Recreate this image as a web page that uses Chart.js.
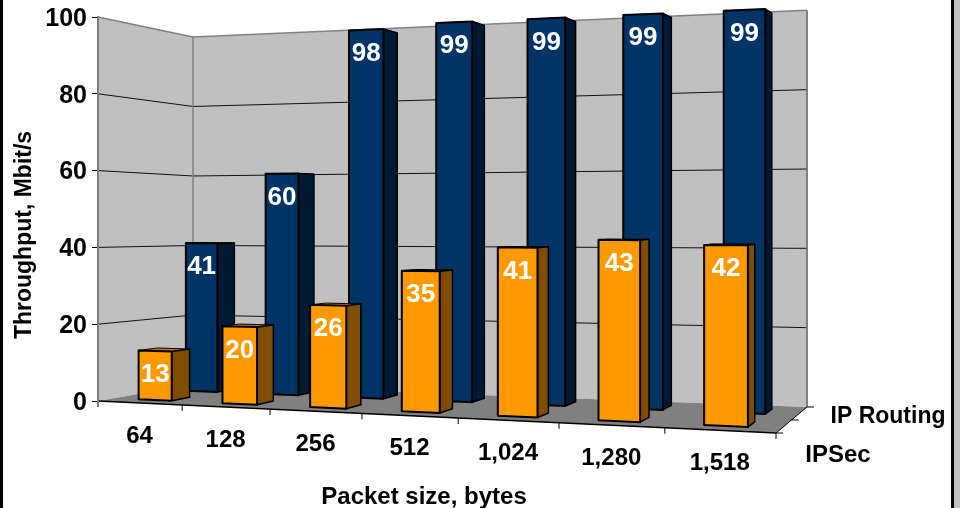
<!DOCTYPE html>
<html>
<head>
<meta charset="utf-8">
<title>Throughput by packet size</title>
<style>
    html, body { margin: 0; padding: 0; background: #c0c0c0; overflow: hidden; }
    .panel { position: absolute; left: 0; top: 0; width: 954px; height: 508px; box-sizing: border-box; background: #fff; border-left: 3px solid #000; border-right: 3px solid #000; }
    #chart { position: absolute; left: 0; top: 0; }
</style>
</head>
<body>
<div class="panel"></div>
<canvas id="chart" width="960" height="508"></canvas>
<script src="https://cdn.jsdelivr.net/npm/chart.js@4"></script>
<script>
const packetSizes = ['64', '128', '256', '512', '1,024', '1,280', '1,518'];
const ipSecValues = [13, 20, 26, 35, 41, 43, 42];
const ipRoutingValues = [41, 60, 98, 99, 99, 99, 99];
const seriesNames = ['IPSec', 'IP Routing'];
const yTicks = [0, 20, 40, 60, 80, 100];

const FONT = '"Liberation Sans", Arial, sans-serif';

// Box corners on screen, measured from the y axis: floor offsets and wall scaling
const BOX = {
    frontSpan: 678,
    frontDrop: 32,
    backLeftX: 95,
    backLeftY: -16.5,
    backSpan: 614,
    backDrop: 22.5,
    perspective: -0.15,
    scaleFrontRight: 1.16,
    scaleBackLeft: 0.905,
    scaleBackRight: 1.033,
};

const ROWS = [
    { front: 0.17, back: 0.37, face: '#ff9900', side: '#7f4c00', top: '#c87800' },
    { front: 0.68, back: 0.87, face: '#003366', side: '#001a33', top: '#001a33' },
];

const lerp = (a, b, t) => a + (b - a) * t;

// Turns (u along the axis, w into the depth, h in y-axis pixels) into a screen point
const makeProjector = (chart) => {
    const area = chart.chartArea;
    return (u, w, h = 0) => {
        const p = BOX.perspective;
        const t = (u * (1 + p)) / (1 + p * u);
        const frontX = area.left + BOX.frontSpan * t;
        const frontY = area.bottom + BOX.frontDrop * t;
        const backX = area.left + BOX.backLeftX + BOX.backSpan * t;
        const backY = area.bottom + BOX.backLeftY + BOX.backDrop * t;
        const scale = lerp(lerp(1, BOX.scaleFrontRight, t), lerp(BOX.scaleBackLeft, BOX.scaleBackRight, t), w);
        return { x: lerp(frontX, backX, w), y: lerp(frontY, backY, w) - h * scale };
    };
};

const polygon = (ctx, points, fill, stroke, lineWidth = 1) => {
    ctx.beginPath();
    points.forEach((pt, i) => (i === 0 ? ctx.moveTo(pt.x, pt.y) : ctx.lineTo(pt.x, pt.y)));
    ctx.closePath();
    if (fill) {
        ctx.fillStyle = fill;
        ctx.fill();
    }
    if (stroke) {
        ctx.strokeStyle = stroke;
        ctx.lineWidth = lineWidth;
        ctx.lineJoin = 'round';
        ctx.stroke();
    }
};

const segment = (ctx, a, b, color, lineWidth = 1) => {
    ctx.beginPath();
    ctx.moveTo(a.x, a.y);
    ctx.lineTo(b.x, b.y);
    ctx.strokeStyle = color;
    ctx.lineWidth = lineWidth;
    ctx.stroke();
};

const text = (ctx, label, x, y, font, color = '#000') => {
    ctx.font = font;
    ctx.fillStyle = color;
    ctx.textAlign = 'center';
    ctx.textBaseline = 'middle';
    ctx.fillText(label, x, y);
};

const drawBox = (chart) => {
    const { ctx, scales: { y: yScale } } = chart;
    const project = makeProjector(chart);
    const full = yScale.bottom - yScale.top;

    ctx.save();
    polygon(ctx, [project(0, 0), project(0, 1), project(0, 1, full), project(0, 0, full)], '#c0c0c0');
    polygon(ctx, [project(0, 1), project(1, 1), project(1, 1, full), project(0, 1, full)], '#c0c0c0');
    polygon(ctx, [project(0, 0), project(1, 0), project(1, 1), project(0, 1)], '#808080');

    yTicks.slice(1, -1).forEach((value) => {
        const h = yScale.bottom - yScale.getPixelForValue(value);
        segment(ctx, project(0, 0, h), project(0, 1, h), '#111');
        segment(ctx, project(0, 1, h), project(1, 1, h), '#111');
    });

    segment(ctx, project(0, 0, full), project(0, 1, full), '#808080', 1.5);
    segment(ctx, project(0, 1, full), project(1, 1, full), '#808080', 1.5);
    segment(ctx, project(0, 1), project(0, 1, full), '#808080', 1.5);
    segment(ctx, project(1, 1), project(1, 1, full), '#808080', 2);

    // Floor edges with category and series ticks
    segment(ctx, project(0, 0), project(1, 0), '#000', 1.5);
    segment(ctx, project(1, 0), project(1, 1), '#000', 1);
    packetSizes.forEach((_, i) => {
        const pt = project(i / packetSizes.length, 0);
        segment(ctx, pt, { x: pt.x, y: pt.y + 6 }, '#000');
    });
    const last = project(1, 0);
    segment(ctx, last, { x: last.x, y: last.y + 6 }, '#000');
    [0, 0.5, 1].forEach((w) => {
        const pt = project(1, w);
        segment(ctx, pt, { x: pt.x + 7, y: pt.y }, '#000');
    });
    ctx.restore();
};

const drawBar = (ctx, project, element, value, row, yScale) => {
    const area = yScale.chart.chartArea;
    const u0 = (element.x - element.width / 2 - area.left) / (area.right - area.left);
    const u1 = (element.x + element.width / 2 - area.left) / (area.right - area.left);
    const h = element.base - element.y;

    const fl = project(u0, row.front);
    const fr = project(u1, row.front);
    const br = project(u1, row.back);
    const tfl = project(u0, row.front, h);
    const tfr = project(u1, row.front, h);
    const tbr = project(u1, row.back, h);
    const tbl = project(u0, row.back, h);

    polygon(ctx, [tfl, tfr, tbr, tbl], row.top, '#000', 1);
    polygon(ctx, [fr, br, tbr, tfr], row.side, '#000', 1.5);
    polygon(ctx, [fl, fr, tfr, tfl], row.face, '#000', 2);
    text(ctx, String(value), (tfl.x + tfr.x) / 2, (tfl.y + tfr.y) / 2 + 24, `bold 26px ${FONT}`, '#fff');
};

const box3dPlugin = {
    id: 'box3d',
    beforeDraw: drawBox,
    beforeDatasetsDraw(chart) {
        const { ctx, scales: { y: yScale } } = chart;
        const project = makeProjector(chart);
        ctx.save();
        // Back row first so the front row sits over it
        [1, 0].forEach((datasetIndex) => {
            const values = chart.data.datasets[datasetIndex].data;
            chart.getDatasetMeta(datasetIndex).data.forEach((element, i) => {
                drawBar(ctx, project, element, values[i], ROWS[datasetIndex], yScale);
            });
        });
        ctx.restore();
        return false;
    },
    afterDraw(chart) {
        const { ctx } = chart;
        const project = makeProjector(chart);
        ctx.save();
        packetSizes.forEach((label, i) => {
            const pt = project((i + 0.5) / packetSizes.length, 0);
            text(ctx, label, pt.x, pt.y + 33, `bold 24px ${FONT}`);
        });
        text(ctx, 'Packet size, bytes', 424, 497, `bold 24px ${FONT}`);
        text(ctx, seriesNames[0], 838, 455, `bold 24px ${FONT}`);
        text(ctx, seriesNames[1], 888, 417, `bold 23px ${FONT}`);

        ctx.translate(25, 235);
        ctx.rotate(-Math.PI / 2);
        text(ctx, 'Throughput, Mbit/s', 0, 0, `bold 23px ${FONT}`);
        ctx.restore();
    },
};

new Chart(document.getElementById('chart'), {
    type: 'bar',
    data: {
        labels: packetSizes,
        datasets: [
            { label: seriesNames[0], data: ipSecValues, backgroundColor: ROWS[0].face },
            { label: seriesNames[1], data: ipRoutingValues, backgroundColor: ROWS[1].face },
        ],
    },
    options: {
        responsive: false,
        animation: false,
        events: [],
        layout: { padding: { left: 0, top: 17, right: 184, bottom: 107 } },
        datasets: { bar: { grouped: false, barPercentage: 0.4, categoryPercentage: 1 } },
        plugins: { legend: { display: false }, tooltip: { enabled: false } },
        scales: {
            x: { display: false },
            y: {
                min: 0,
                max: 100,
                afterFit: (scale) => {
                    scale.width = 98;
                    scale.paddingTop = 0;
                    scale.paddingBottom = 0;
                },
                afterBuildTicks: (scale) => { scale.ticks = yTicks.map((value) => ({ value })); },
                border: { color: '#808080', width: 2 },
                grid: { drawOnChartArea: false, color: '#000', tickLength: 6 },
                ticks: { color: '#000', padding: 5, labelOffset: 2, font: { family: FONT, size: 25, weight: 'bold' } },
            },
        },
    },
    plugins: [box3dPlugin],
});
</script>
</body>
</html>
